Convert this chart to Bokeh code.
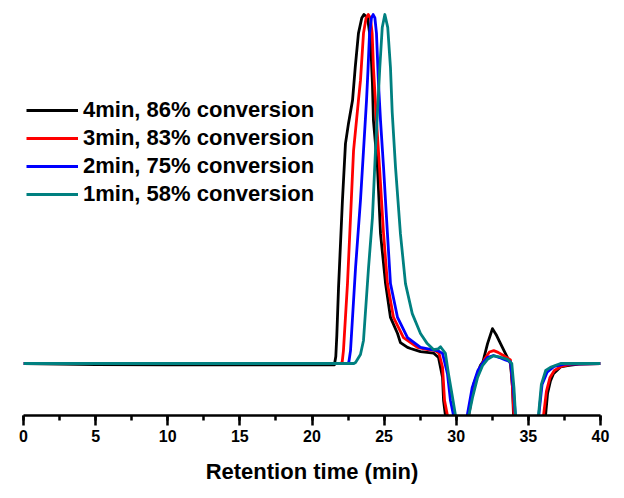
from bokeh.plotting import figure
from bokeh.models import Range1d, SingleIntervalTicker, Legend, LegendItem
from bokeh.embed import file_html
from bokeh.resources import INLINE

# Retention time (min) and normalized detector signal for each sample
t_4min = [0, 5, 10, 15, 21.55, 21.65, 21.72, 21.84, 22.11, 22.32, 22.53, 22.81, 23.0, 23.22, 23.45, 23.6,
          23.85, 24.06, 24.19, 24.26, 24.54, 24.75, 25.1, 25.44, 25.93, 26.13, 26.62, 26.83, 27.52, 28.42,
          28.77, 29.05, 29.12, 29.25, 29.45, 30.6, 30.85, 31.2, 31.68, 31.85, 32.17, 32.51, 32.8, 33.07,
          33.55, 33.76, 33.9, 33.97, 34.15, 36.0, 36.19, 36.33, 36.53, 36.74, 37.23, 37.71, 38.5, 40]
y_4min = [0.0, -0.003, -0.004, -0.004, -0.004, 0.02, 0.08, 0.218, 0.467, 0.63, 0.688, 0.754, 0.85, 0.946, 0.99, 1.0,
          0.991, 0.925, 0.802, 0.696, 0.562, 0.372, 0.229, 0.132, 0.086, 0.06, 0.046, 0.043, 0.034, 0.03,
          0.017, -0.04, -0.106, -0.149, -0.3, -0.3, -0.149, -0.06, -0.005, 0.005, 0.057, 0.1, 0.08, 0.057,
          0.017, 0.0, -0.069, -0.149, -0.3, -0.3, -0.149, -0.086, -0.05, -0.029, -0.01, -0.006, -0.002, 0.0]

t_3min = [0, 10, 21.95, 22.09, 22.18, 22.46, 22.67, 22.88, 23.22, 23.36, 23.57, 23.75, 23.9, 24.05, 24.17,
          24.26, 24.47, 24.68, 24.96, 25.23, 25.65, 26.34, 27.31, 28.0, 28.5, 28.8, 29.05, 29.19, 29.39, 29.6,
          30.6, 30.87, 31.2, 31.68, 32.0, 32.3, 32.6, 32.9, 33.3, 33.76, 33.9, 34.0, 34.2,
          35.9, 36.05, 36.25, 36.5, 36.8, 37.3, 38.0, 40]
y_3min = [0.0, 0.0, 0.0, 0.003, 0.037, 0.229, 0.418, 0.61, 0.754, 0.811, 0.946, 0.99, 1.0, 0.99, 0.946,
          0.848, 0.696, 0.562, 0.372, 0.229, 0.132, 0.074, 0.046, 0.04, 0.038, 0.03, -0.011, -0.106, -0.149, -0.3,
          -0.3, -0.149, -0.065, -0.01, 0.015, 0.033, 0.037, 0.032, 0.022, 0.01, -0.069, -0.149, -0.3,
          -0.3, -0.149, -0.08, -0.04, -0.02, -0.008, -0.002, 0.0]

t_2min = [0, 10, 22.45, 22.55, 22.67, 23.02, 23.36, 23.57, 23.78, 23.88, 23.99, 24.12, 24.24, 24.36, 24.47,
          24.61, 24.75, 24.96, 25.23, 25.44, 25.93, 26.62, 27.52, 28.3, 28.7, 29.05, 29.39, 29.6, 29.81, 30.0,
          30.5, 30.76, 31.1, 31.5, 31.9, 32.2, 32.58, 33.0, 33.4, 33.76, 33.95, 34.1, 34.3,
          35.5, 35.72, 35.95, 36.3, 36.8, 37.5, 40]
y_2min = [0.0, 0.0, 0.0, 0.003, 0.037, 0.275, 0.467, 0.61, 0.754, 0.84, 0.946, 0.99, 1.0, 0.99, 0.946,
          0.802, 0.696, 0.562, 0.372, 0.229, 0.132, 0.074, 0.046, 0.04, 0.037, 0.029, -0.029, -0.106, -0.149, -0.3,
          -0.3, -0.149, -0.07, -0.02, 0.005, 0.018, 0.023, 0.017, 0.01, 0.005, -0.069, -0.149, -0.3,
          -0.3, -0.149, -0.06, -0.025, -0.008, -0.002, 0.0]

t_1min = [0, 10, 22.9, 23.02, 23.36, 23.57, 23.92, 24.19, 24.4, 24.54, 24.7, 24.87, 25.05, 25.25, 25.44,
          25.56, 25.79, 26.13, 26.48, 26.95, 27.52, 27.99, 28.42, 28.75, 28.91, 29.05, 29.25, 29.46, 29.74, 29.95,
          30.1, 30.5, 30.87, 31.13, 31.48, 31.82, 32.17, 32.58, 33.07, 33.55, 33.85, 34.0, 34.11, 34.3,
          35.5, 35.7, 35.9, 36.2, 36.53, 37.23, 40]
y_1min = [0.0, 0.0, 0.0, 0.003, 0.026, 0.066, 0.275, 0.418, 0.61, 0.72, 0.848, 0.963, 1.0, 0.963, 0.848,
          0.72, 0.562, 0.372, 0.229, 0.143, 0.086, 0.057, 0.04, 0.042, 0.048, 0.04, 0.029, -0.029, -0.097, -0.149,
          -0.3, -0.3, -0.149, -0.097, -0.04, -0.006, 0.012, 0.022, 0.018, 0.012, 0.0, -0.069, -0.149, -0.3,
          -0.3, -0.149, -0.06, -0.02, -0.011, 0.0, 0.0]

labels = ["4min, 86% conversion", "3min, 83% conversion", "2min, 75% conversion", "1min, 58% conversion"]
colors = ["#000000", "#ff0000", "#0000ff", "#008080"]
xs = [t_4min, t_3min, t_2min, t_1min]
ys = [y_4min, y_3min, y_2min, y_1min]

FONT = "Liberation Sans"

p = figure(width=616, height=490, output_backend="svg", toolbar_location=None,
           x_range=Range1d(0, 40), y_range=Range1d(-0.149, 1.0172),
           min_border_left=23, min_border_right=16, min_border_top=8, min_border_bottom=75)
p.outline_line_color = None
p.grid.visible = False
p.yaxis.visible = False

renderers = []
for x, y, c in zip(xs, ys, colors):
    r = p.line(x, y, line_color=c, line_width=2.8, line_join="round")
    renderers.append(r)

ax = p.xaxis[0]
ax.ticker = SingleIntervalTicker(interval=5, num_minor_ticks=2)
ax.axis_line_width = 2.5
ax.major_tick_line_width = 2.5
ax.minor_tick_line_width = 2.5
ax.major_tick_in = 0
ax.major_tick_out = 10
ax.minor_tick_in = 0
ax.minor_tick_out = 5
ax.major_label_text_font = FONT
ax.major_label_text_font_style = "bold"
ax.major_label_text_font_size = "16px"
ax.major_label_text_color = "#000000"
ax.major_label_standoff = 4
ax.axis_label = "Retention time (min)"
ax.axis_label_text_font = FONT
ax.axis_label_text_font_style = "bold"
ax.axis_label_text_font_size = "22px"
ax.axis_label_text_color = "#000000"
ax.axis_label_standoff = 14

items = [LegendItem(label=l, renderers=[r]) for l, r in zip(labels, renderers)]
legend = Legend(items=items, location=(3, 208))
legend.padding = 0
legend.margin = 0
legend.spacing = 2
legend.border_line_alpha = 0
legend.background_fill_alpha = 0
legend.glyph_width = 52
legend.glyph_height = 24
legend.label_height = 24
legend.label_standoff = 5
legend.label_text_font = FONT
legend.label_text_font_style = "bold"
legend.label_text_font_size = "22px"
legend.label_text_color = "#000000"
p.add_layout(legend)

open("out.html", "w").write(file_html(p, INLINE))
